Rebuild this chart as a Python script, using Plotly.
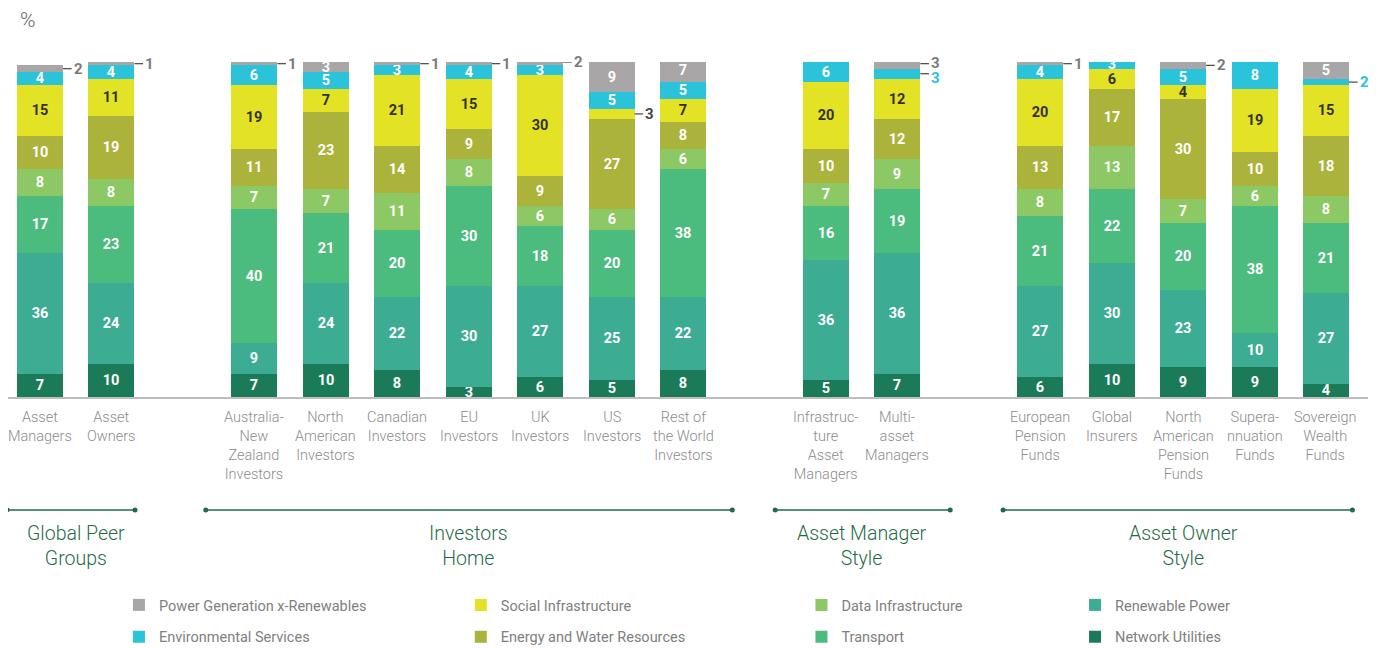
import plotly.graph_objects as go

# ---------------- data ----------------
group_titles = ["Global Peer<br>Groups", "Investors<br>Home", "Asset Manager<br>Style", "Asset Owner<br>Style"]
group_members = [
    ["Asset<br>Managers", "Asset<br>Owners"],
    ["Australia-<br>New<br>Zealand<br>Investors", "North<br>American<br>Investors", "Canadian<br>Investors",
     "EU<br>Investors", "UK<br>Investors", "US<br>Investors", "Rest of<br>the World<br>Investors"],
    ["Infrastruc-<br>ture<br>Asset<br>Managers", "Multi-<br>asset<br>Managers"],
    ["European<br>Pension<br>Funds", "Global<br>Insurers", "North<br>American<br>Pension<br>Funds",
     "Supera-<br>nnuation<br>Funds", "Sovereign<br>Wealth<br>Funds"],
]

# series, bottom to top of the stack
network_utilities = [7, 10, 7, 10, 8, 3, 6, 5, 8, 5, 7, 6, 10, 9, 9, 4]
renewable_power   = [36, 24, 9, 24, 22, 30, 27, 25, 22, 36, 36, 27, 30, 23, 10, 27]
transport         = [17, 23, 40, 21, 20, 30, 18, 20, 38, 16, 19, 21, 22, 20, 38, 21]
data_infra        = [8, 8, 7, 7, 11, 8, 6, 6, 6, 7, 9, 8, 13, 7, 6, 8]
energy_water      = [10, 19, 11, 23, 14, 9, 9, 27, 8, 10, 12, 13, 17, 30, 10, 18]
social_infra      = [15, 11, 19, 7, 21, 15, 30, 3, 7, 20, 12, 20, 6, 4, 19, 15]
env_services      = [4, 4, 6, 5, 3, 4, 3, 5, 5, 6, 3, 4, 3, 5, 8, 2]
power_gen_xren    = [2, 1, 1, 3, 1, 1, 2, 9, 7, 1, 3, 1, 0, 2, 0, 5]

series_names = ["Network Utilities", "Renewable Power", "Transport", "Data Infrastructure",
                "Energy and Water Resources", "Social Infrastructure", "Environmental Services",
                "Power Generation x-Renewables"]
series_values = [network_utilities, renewable_power, transport, data_infra,
                 energy_water, social_infra, env_services, power_gen_xren]

# (bar index, series index) labelled outside the bar
outside_labels = [(0, 7), (1, 7), (2, 7), (4, 7), (5, 7), (6, 7), (7, 5), (9, 7),
                  (10, 7), (10, 6), (11, 7), (13, 7), (15, 6)]

# ---------------- style ----------------
colors = ["#1b7b59", "#3cac93", "#4bbb7e", "#8cc864", "#abb33a", "#e3e224", "#2ac3d9", "#a8a6a7"]
label_colors = ["white", "white", "white", "white", "white", "#333333", "white", "white"]
outside_colors = {7: "#7a7a7a", 6: "#2ac3d9", 5: "#444444"}
legend_of = ["legend4", "legend4", "legend3", "legend3", "legend2", "legend2", "legend", "legend"]
legend_rank = [2, 1, 2, 1, 2, 1, 2, 1]
FONT = "Roboto"
GREEN = "#1f6b49"

# x positions: one empty slot between groups
positions, cat_labels, group_spans = [], [], []
pos = 0
for members in group_members:
    start = pos
    for m in members:
        positions.append(pos)
        cat_labels.append(m)
        pos += 1
    group_spans.append((start, pos - 1))
    pos += 1

BAR_W = 0.645
fig = go.Figure()
outside_set = set(outside_labels)
for s, (name, vals) in enumerate(zip(series_names, series_values)):
    texts = ["" if (i, s) in outside_set or v == 0 else str(v) for i, v in enumerate(vals)]
    fig.add_trace(go.Bar(
        x=positions, y=vals, name=name, width=BAR_W,
        marker=dict(color=colors[s], line=dict(width=0)),
        text=texts, textposition="inside", insidetextanchor="middle",
        textangle=0, constraintext="none",
        textfont=dict(family=FONT, size=14.5, color=label_colors[s], weight="bold"),
        legend=legend_of[s], legendrank=legend_rank[s], legendgroup=name,
        hoverinfo="skip",
    ))

annotations, shapes = [], []
# outside labels with leader lines (spread apart when two sit on the same bar)
for (i, s) in outside_labels:
    below = sum(series_values[k][i] for k in range(s))
    mid = below + series_values[s][i] / 2
    x = positions[i]
    shift = 0
    if s == 6 and (i, 7) in outside_set:
        shift = -4
    elif s == 7 and (i, 6) in outside_set:
        shift = 1
    shapes.append(dict(type="line", xref="x", yref="y", x0=x + BAR_W / 2, x1=x + BAR_W / 2 + 0.12,
                       y0=mid, y1=mid, line=dict(color="#444444", width=1.2)))
    annotations.append(dict(x=x + BAR_W / 2 + 0.12, y=mid, xref="x", yref="y", text=str(series_values[s][i]),
                            showarrow=False, xanchor="left", yanchor="middle", yshift=shift,
                            font=dict(family=FONT, size=15, color=outside_colors[s], weight="bold")))

# category labels
for x, lab in zip(positions, cat_labels):
    annotations.append(dict(x=x, y=-0.03, xref="x", yref="paper", text=lab, showarrow=False,
                            xanchor="center", yanchor="top", align="center",
                            font=dict(family=FONT, size=14.5, color="#8c8c8c", weight=300)))

# group lines and titles
line_offsets = [(0.46, 0.33), (0.68, 0.69), (0.71, 0.74), (0.52, 0.37)]
LINE_Y = -0.337
for (a, b), (la, lb), title in zip(group_spans, line_offsets, group_titles):
    x0, x1 = a - la, b + lb
    shapes.append(dict(type="line", xref="x", yref="paper", x0=x0, x1=x1, y0=LINE_Y, y1=LINE_Y,
                       line=dict(color=GREEN, width=1.5)))
    for xe in (x0, x1):
        shapes.append(dict(type="circle", xref="x", yref="paper", xsizemode="pixel", ysizemode="pixel",
                           xanchor=xe, yanchor=LINE_Y, x0=-2.5, x1=2.5, y0=-2.5, y1=2.5,
                           fillcolor=GREEN, line=dict(width=0)))
    annotations.append(dict(x=(a + b) / 2, y=-0.368, xref="x", yref="paper", text=title, showarrow=False,
                            xanchor="center", yanchor="top", align="center",
                            font=dict(family=FONT, size=19.5, color=GREEN, weight=300)))

# percent sign
annotations.append(dict(xref="paper", yref="paper", x=0.0073, y=1.125, xanchor="left", yanchor="middle",
                        text="%", showarrow=False, font=dict(family=FONT, size=21, color="#666666", weight=300)))

legend_style = dict(orientation="v", yanchor="top", xanchor="left", y=-0.573,
                    font=dict(family=FONT, size=14.5, color="#808080"),
                    bgcolor="rgba(0,0,0,0)", tracegroupgap=10, traceorder="grouped", itemclick=False)
legend_x = {"legend": 0.0811, "legend2": 0.331, "legend3": 0.580, "legend4": 0.780}

fig.update_layout(
    width=1368, height=640,
    margin=dict(l=0, r=0, t=54, b=251, autoexpand=False),
    paper_bgcolor="white", plot_bgcolor="white",
    barmode="stack", bargap=0,
    showlegend=True,
    legend=dict(legend_style, x=legend_x["legend"]),
    legend2=dict(legend_style, x=legend_x["legend2"]),
    legend3=dict(legend_style, x=legend_x["legend3"]),
    legend4=dict(legend_style, x=legend_x["legend4"]),
    xaxis=dict(range=[-0.448, 18.70], showticklabels=False, ticks="", showgrid=False, zeroline=False,
               showline=True, linecolor="#bdbdbd", linewidth=2),
    yaxis=dict(range=[0, 100], showticklabels=False, ticks="", showgrid=False, zeroline=False,
               showline=False),
    annotations=annotations, shapes=shapes,
    font=dict(family=FONT),
)

fig.write_html("out.html")
